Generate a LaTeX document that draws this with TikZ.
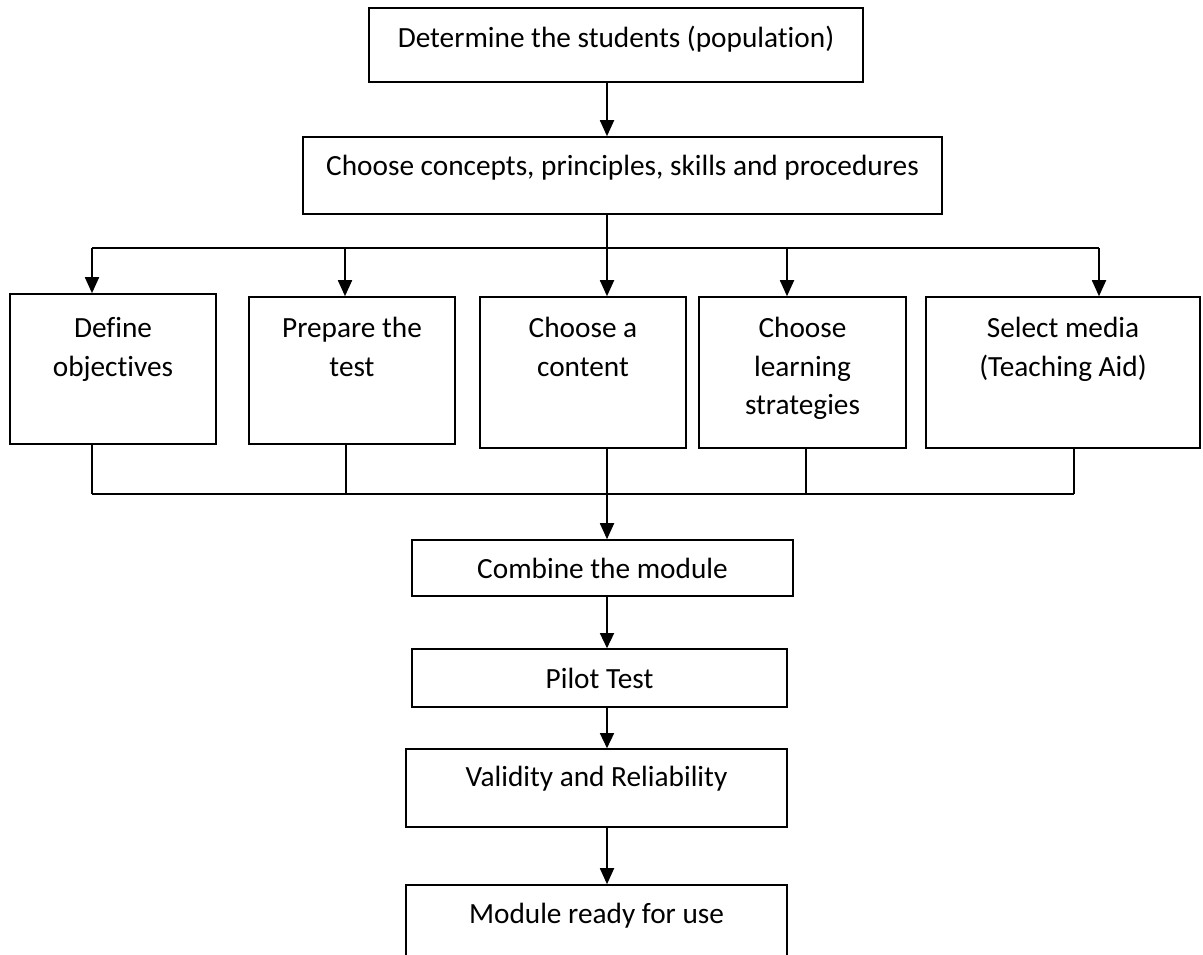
\documentclass[tikz,border=0pt]{standalone}
\usepackage{fontspec}
\setmainfont[Ligatures={NoCommon,NoContextual}]{Carlito}
\usetikzlibrary{arrows.meta}
\begin{document}
\begin{tikzpicture}[x=1pt,y=-1pt,
  box/.style={draw=black, line width=1.6pt, inner sep=0pt, fill=white},
  txt/.style={anchor=base, inner sep=0pt, font=\fontsize{29.3}{38.5}\selectfont},
  conn/.style={line width=1.8pt},
  bar/.style={line width=2.4pt},
  arr/.style={line width=1.8pt, -{Triangle[length=16pt,width=14pt]}},
  arrthin/.style={line width=1.4pt, -{Triangle[length=15pt,width=14pt]}}
]
\useasboundingbox (0,0) rectangle (1203,954);
\fill[white] (0,0) rectangle (1203,954);
\clip (0,0) rectangle (1203,954);

% boxes
\node[box, minimum width=494pt, minimum height=74pt] (n1) at (616,45) {};
\node[box, minimum width=639pt, minimum height=77pt] (n2) at (622.5,175.5) {};
\node[box, minimum width=206pt, minimum height=150pt] (b1) at (113,369) {};
\node[box, minimum width=206pt, minimum height=147pt] (b2) at (352,370.5) {};
\node[box, minimum width=206pt, minimum height=151pt] (b3) at (583,372.5) {};
\node[box, minimum width=207pt, minimum height=151pt] (b4) at (802.5,372.5) {};
\node[box, minimum width=274pt, minimum height=151pt] (b5) at (1063,372.5) {};
\node[box, minimum width=381pt, minimum height=56pt] (cm) at (602.5,568) {};
\node[box, minimum width=375pt, minimum height=58pt] (pt) at (599.5,678) {};
\node[box, minimum width=381pt, minimum height=78pt] (vr) at (596.5,788) {};
\node[box, minimum width=381pt, minimum height=130pt] (mr) at (596.5,950) {};

% texts
\node[txt] (t1) at (616,47) {Determine the students (population)};
\node[txt] (t2) at (622.5,175) {Choose concepts, principles, skills and procedures};
\node[txt] (t3a) at (113,337.5) {Define};
\node[txt] (t3b) at (113,376) {objectives};
\node[txt] (t4a) at (352,337.5) {Prepare the};
\node[txt] (t4b) at (352,376) {test};
\node[txt] (t5a) at (583,337.5) {Choose a};
\node[txt] (t5b) at (583,376) {content};
\node[txt] (t6a) at (802.5,337.5) {Choose};
\node[txt] (t6b) at (802.5,376) {learning};
\node[txt] (t6c) at (802.5,414.5) {strategies};
\node[txt] (t7a) at (1063,337.5) {Select media};
\node[txt] (t7b) at (1063,376) {(Teaching Aid)};
\node[txt] (t8) at (602.5,578) {Combine the module};
\node[txt] (t9) at (599.5,688) {Pilot Test};
\node[txt] (t10) at (596.5,786) {Validity and Reliability};
\node[txt] (t11) at (596.5,923) {Module ready for use};

% coordinates
\coordinate (s) at (607,0);
\coordinate (bt) at (607,248);
\coordinate (btL) at (92,248);
\coordinate (bt2) at (345,248);
\coordinate (bt4) at (787,248);
\coordinate (btR) at (1099,248);
\coordinate (lbL) at (92,494);
\coordinate (lb2) at (346,494);
\coordinate (lbM) at (607,494);
\coordinate (lb4) at (806,494);
\coordinate (lbR) at (1074,494);

% upper connectors
\draw[arr] (n1.south -| s) -- (n2.north -| s);
\draw[conn] (n2.south -| s) -- (bt);
\draw[bar] (btL) -- (btR);
\draw[arr] (btL) -- (b1.north -| btL);
\draw[arr] (bt2) -- (b2.north -| bt2);
\draw[arr] (bt) -- (b3.north -| bt);
\draw[arr] (bt4) -- (b4.north -| bt4);
\draw[arr] (btR) -- (b5.north -| btR);

% lower connectors
\draw[conn] (b1.south -| lbL) -- (lbL);
\draw[conn] (b2.south -| lb2) -- (lb2);
\draw[conn] (b3.south -| lbM) -- (lbM);
\draw[conn] (b4.south -| lb4) -- (lb4);
\draw[conn] (b5.south -| lbR) -- (lbR);
\draw[bar] (lbL) -- (lbR);
\draw[arr] (lbM) -- (cm.north -| lbM);

% bottom chain
\draw[arrthin] (cm.south -| s) -- (pt.north -| s);
\draw[arrthin] (pt.south -| s) -- (vr.north -| s);
\draw[arr] (vr.south -| s) -- (mr.north -| s);
\end{tikzpicture}
\end{document}
